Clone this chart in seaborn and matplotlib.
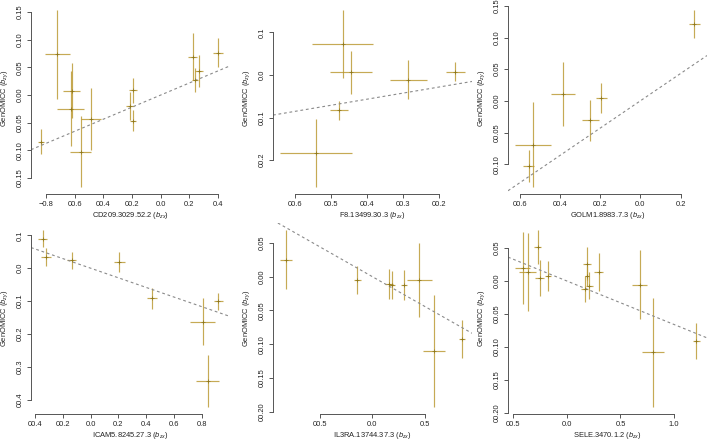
import numpy as np
import matplotlib
matplotlib.use('Agg')
import matplotlib.pyplot as plt
import seaborn as sns

# ============================================================================
# 데이터
# ============================================================================
# CD209.3029.52.2
cd209_bzx = [-0.833, -0.721, -0.621, -0.628, -0.558, -0.488, -0.214, -0.195, -0.195, 0.223, 0.240, 0.270, 0.400]
cd209_bzy = [-0.084, 0.0736, 0.0079, -0.0243, -0.102, -0.044, -0.020, 0.0085, -0.0464, 0.0694, 0.0276, 0.0437, 0.0766]
cd209_se_x = [0.021, 0.087, 0.058, 0.093, 0.074, 0.070, 0.028, 0.028, 0.020, 0.030, 0.023, 0.029, 0.033]
cd209_se_y = [0.023, 0.080, 0.050, 0.067, 0.064, 0.056, 0.025, 0.022, 0.019, 0.043, 0.022, 0.029, 0.026]
cd209_slope = 0.109

# F8.13499.30.3
f8_bzx = [-0.468, -0.445, -0.478, -0.542, -0.284, -0.153]
f8_bzy = [0.0727, 0.0065, -0.083, -0.183, -0.0106, 0.0081]
f8_se_x = [0.085, 0.059, 0.025, 0.100, 0.052, 0.026]
f8_se_y = [0.080, 0.051, 0.023, 0.080, 0.046, 0.022]
f8_slope = 0.142

# GOLM1.8983.7.3
golm1_bzx = [0.269, -0.385, -0.193, -0.248, -0.532, -0.554]
golm1_bzy = [0.1215, 0.0108, 0.0045, -0.031, -0.069, -0.1027]
golm1_se_x = [0.026, 0.059, 0.026, 0.043, 0.089, 0.027]
golm1_se_y = [0.022, 0.050, 0.023, 0.033, 0.067, 0.025]
golm1_slope = 0.216

# ICAM5.8245.27.3
icam5_bzx = [-0.347, -0.323, -0.136, 0.208, 0.441, 0.809, 0.843, 0.922]
icam5_bzy = [0.090, 0.034, 0.024, 0.018, -0.092, -0.163, -0.343, -0.100]
icam5_se_x = [0.030, 0.036, 0.034, 0.038, 0.036, 0.090, 0.084, 0.030]
icam5_se_y = [0.026, 0.026, 0.025, 0.030, 0.032, 0.072, 0.079, 0.026]
icam5_slope = -0.146

# IL3RA.13744.37.3
il3ra_bzx = [-0.822, -0.143, 0.162, 0.190, 0.302, 0.448, 0.591, 0.854]
il3ra_bzy = [0.0249, -0.0053, -0.0112, -0.0122, -0.0122, -0.0053, -0.110, -0.092]
il3ra_se_x = [0.056, 0.032, 0.040, 0.030, 0.030, 0.119, 0.103, 0.029]
il3ra_se_y = [0.044, 0.021, 0.022, 0.021, 0.022, 0.055, 0.083, 0.028]
il3ra_slope = -0.088

# SELE.3470.1.2
sele_bzx = [-0.4125, -0.369, -0.275, -0.256, -0.178, 0.166, 0.1875, 0.1875, 0.209, 0.297, 0.678, 0.806, 1.209]
sele_bzy = [0.0198, 0.0133, 0.0515, 0.0047, 0.0082, -0.0119, 0.0264, 0.0082, -0.0068, 0.0133, -0.0053, -0.1084, -0.0908]
sele_se_x = [0.070, 0.078, 0.036, 0.039, 0.031, 0.031, 0.039, 0.016, 0.031, 0.042, 0.067, 0.102, 0.031]
sele_se_y = [0.055, 0.059, 0.026, 0.028, 0.023, 0.020, 0.025, 0.015, 0.021, 0.029, 0.052, 0.083, 0.027]
sele_slope = -0.066

# 눈금 (그림에 보이는 그대로)
cd209_xticks = [-0.8, -0.6, -0.4, -0.2, 0.0, 0.2, 0.4]
cd209_xlabels = ['\u22120.8', '00.6', '00.4', '00.2', '0.0', '0.2', '0.4']
cd209_yticks = [0.15, 0.10, 0.05, 0.0, -0.05, -0.10, -0.15]
cd209_ylabels = ['0.15', '0.10', '0.05', '0.00', '00.05', '00.10', '00.15']

f8_xticks = [-0.6, -0.5, -0.4, -0.3, -0.2]
f8_xlabels = ['00.6', '00.5', '00.4', '00.3', '00.2']
f8_yticks = [0.1, 0.0, -0.1, -0.2]
f8_ylabels = ['0.1', '0.0', '00.1', '00.2']

golm1_xticks = [-0.6, -0.4, -0.2, 0.0, 0.2]
golm1_xlabels = ['00.6', '00.4', '00.2', '0.0', '0.2']
golm1_yticks = [0.15, 0.10, 0.05, 0.0, -0.05, -0.10]
golm1_ylabels = ['0.15', '0.10', '0.05', '0.00', '00.05', '00.10']

icam5_xticks = [-0.4, -0.2, 0.0, 0.2, 0.4, 0.6, 0.8]
icam5_xlabels = ['00.4', '00.2', '0.0', '0.2', '0.4', '0.6', '0.8']
icam5_yticks = [0.1, 0.0, -0.1, -0.2, -0.3, -0.4]
icam5_ylabels = ['0.1', '0.0', '00.1', '00.2', '00.3', '00.4']

il3ra_xticks = [-0.5, 0.0, 0.5]
il3ra_xlabels = ['00.5', '0.0', '0.5']
il3ra_yticks = [0.05, 0.0, -0.05, -0.10, -0.15, -0.20]
il3ra_ylabels = ['0.05', '0.00', '00.05', '00.10', '00.15', '00.20']

sele_xticks = [-0.5, 0.0, 0.5, 1.0]
sele_xlabels = ['00.5', '0.0', '0.5', '1.0']
sele_yticks = [0.05, 0.0, -0.05, -0.10, -0.15, -0.20]
sele_ylabels = ['0.05', '0.00', '00.05', '00.10', '00.15', '00.20']

panels = [
    ('CD209.3029.52.2', cd209_bzx, cd209_bzy, cd209_se_x, cd209_se_y, cd209_slope,
     cd209_xticks, cd209_xlabels, cd209_yticks, cd209_ylabels),
    ('F8.13499.30.3', f8_bzx, f8_bzy, f8_se_x, f8_se_y, f8_slope,
     f8_xticks, f8_xlabels, f8_yticks, f8_ylabels),
    ('GOLM1.8983.7.3', golm1_bzx, golm1_bzy, golm1_se_x, golm1_se_y, golm1_slope,
     golm1_xticks, golm1_xlabels, golm1_yticks, golm1_ylabels),
    ('ICAM5.8245.27.3', icam5_bzx, icam5_bzy, icam5_se_x, icam5_se_y, icam5_slope,
     icam5_xticks, icam5_xlabels, icam5_yticks, icam5_ylabels),
    ('IL3RA.13744.37.3', il3ra_bzx, il3ra_bzy, il3ra_se_x, il3ra_se_y, il3ra_slope,
     il3ra_xticks, il3ra_xlabels, il3ra_yticks, il3ra_ylabels),
    ('SELE.3470.1.2', sele_bzx, sele_bzy, sele_se_x, sele_se_y, sele_slope,
     sele_xticks, sele_xlabels, sele_yticks, sele_ylabels),
]

# ============================================================================
# 스타일
# ============================================================================
sns.set_theme(style='white')
plt.rcParams['font.family'] = ['Liberation Sans', 'DejaVu Sans']
plt.rcParams['mathtext.fontset'] = 'custom'
plt.rcParams['mathtext.it'] = 'Liberation Sans:italic'
plt.rcParams['mathtext.rm'] = 'Liberation Sans'

bar_color = '#B8952A'
mark_color = '#8A7418'
axis_color = '#555555'
fs = 5.4

W, H = 707, 442
fig = plt.figure(figsize=(W / 100, H / 100), dpi=100)

col_left = [31, 273, 508]
row_bottom = [194, 414]   # 위에서부터 x축 위치 (px)
pw, ph = 199, 191

# ============================================================================
# 그리기
# ============================================================================
for i, (name, bzx, bzy, se_x, se_y, slope, xt, xl, yt, yl) in enumerate(panels):
    r, c = divmod(i, 3)
    ax = fig.add_axes([col_left[c] / W, (H - row_bottom[r]) / H, pw / W, ph / H])

    bzx = np.array(bzx)
    bzy = np.array(bzy)
    se_x = np.array(se_x)
    se_y = np.array(se_y)

    ax.errorbar(bzx, bzy, xerr=se_x, yerr=se_y, fmt='none',
                ecolor=bar_color, elinewidth=0.85, alpha=0.8, capsize=0)
    sns.scatterplot(x=bzx, y=bzy, marker='+', color=mark_color, s=5,
                    linewidth=0.5, ax=ax, legend=False, zorder=3)
    ax.axline((0, 0), slope=slope, color='#8a8a8a', lw=0.8, ls=(0, (2.5, 2.5)))

    # R 스타일: 오차막대 범위 + 4% 여백
    x_lo, x_hi = (bzx - se_x).min(), (bzx + se_x).max()
    y_lo, y_hi = (bzy - se_y).min(), (bzy + se_y).max()
    dx, dy = 0.04 * (x_hi - x_lo), 0.04 * (y_hi - y_lo)
    ax.set_xlim(x_lo - dx, x_hi + dx)
    ax.set_ylim(y_lo - dy, y_hi + dy)

    ax.set_xticks(xt)
    ax.set_xticklabels(xl)
    ax.set_yticks(yt)
    ax.set_yticklabels(yl, rotation=90, va='center')
    ax.tick_params(axis='both', direction='out', length=3, width=0.7,
                   color=axis_color, labelsize=fs, labelcolor='#222222', pad=2,
                   bottom=True, left=True)

    for s in ['top', 'right']:
        ax.spines[s].set_visible(False)
    for s in ['bottom', 'left']:
        ax.spines[s].set_color(axis_color)
        ax.spines[s].set_linewidth(0.7)
    ax.spines['bottom'].set_bounds(xt[0], xt[-1])
    ax.spines['left'].set_bounds(min(yt), max(yt))
    ax.patch.set_alpha(0)

    ax.set_xlabel(name + r' ($b_{zx}$)', fontsize=fs, color='#222222')
    ax.set_ylabel(r'GenOMICC ($b_{zy}$)', fontsize=fs, color='#222222')
    ax.xaxis.set_label_coords(0.5, -0.084)
    ax.yaxis.set_label_coords(-0.105, 0.5)

fig.savefig('out.png', dpi=100)
